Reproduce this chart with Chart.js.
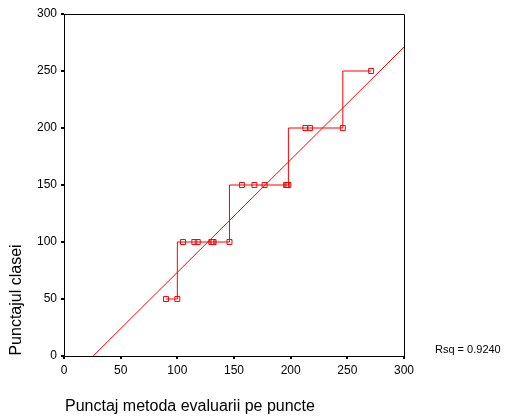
<!DOCTYPE html>
<html>
<head>
<meta charset="utf-8">
<style>
  html, body { margin: 0; padding: 0; background: #fff; }
  #chart { display: block; }
</style>
<script src="https://cdn.jsdelivr.net/npm/chart.js@4/dist/chart.umd.min.js"></script>
</head>
<body>
<canvas id="chart" width="508" height="417"></canvas>
<script>
// observed points (sorted by x)
var evalScore = [90, 100, 105, 115, 118, 130, 131, 132, 146, 157, 168, 177, 196, 197, 198, 213, 217, 246, 271];
var classScore = [50, 50, 100, 100, 100, 100, 100, 100, 100, 150, 150, 150, 150, 150, 150, 200, 200, 200, 250];

// fitted line
var fitX = [25.7, 300];
var fitY = [0, 271];

var xTicks = [0, 50, 100, 150, 200, 250, 300];
var yTicks = [0, 50, 100, 150, 200, 250, 300];

var xTitle = 'Punctaj metoda evaluarii pe puncte';
var yTitle = 'Punctajul clasei';
var rsqLabel = 'Rsq = 0.9240';

var font = 'Arial, "Liberation Sans", sans-serif';

var points = evalScore.map(function(x, i) {
  return { x: x, y: classScore[i] };
});
var fitLine = fitX.map(function(x, i) {
  return { x: x, y: fitY[i] };
});

var extras = {
  id: 'extras',
  afterDraw: function(chart) {
    var ctx = chart.ctx;
    var a = chart.chartArea;
    ctx.save();
    // frame
    ctx.strokeStyle = '#000';
    ctx.lineWidth = 1;
    ctx.beginPath();
    ctx.moveTo(a.left, a.top + 0.5);
    ctx.lineTo(a.right + 0.5, a.top + 0.5);
    ctx.lineTo(a.right + 0.5, a.bottom);
    ctx.stroke();

    ctx.fillStyle = '#000';
    ctx.font = '16px ' + font;
    ctx.textBaseline = 'middle';
    ctx.textAlign = 'left';
    ctx.fillText(xTitle, 65, 407);

    ctx.font = '11px ' + font;
    ctx.fillText(rsqLabel, 435, 350);

    ctx.translate(17, 300);
    ctx.rotate(-Math.PI / 2);
    ctx.textAlign = 'center';
    ctx.font = '16px ' + font;
    ctx.fillText(yTitle, 0, 0);
    ctx.restore();
  }
};

var chart = new Chart('chart', {
  type: 'scatter',
  data: {
    datasets: [
      {
        data: points,
        showLine: true,
        stepped: 'after',
        borderColor: '#ff0000',
        borderWidth: 1,
        pointStyle: 'rect',
        pointRadius: 3.5,
        pointBorderWidth: 1,
        pointBorderColor: '#ff0000',
        pointBackgroundColor: 'rgba(255,255,255,0)',
        fill: false
      },
      {
        data: fitLine,
        showLine: true,
        borderColor: '#ff0000',
        borderWidth: 1,
        pointRadius: 0,
        fill: false
      }
    ]
  },
  options: {
    responsive: false,
    animation: false,
    events: [],
    layout: { padding: { left: 0, top: 14, right: 104, bottom: 0 } },
    plugins: {
      legend: { display: false },
      tooltip: { enabled: false }
    },
    scales: {
      x: {
        type: 'linear',
        min: 0,
        max: 300,
        afterBuildTicks: function(s) {
          s.ticks = xTicks.map(function(v) { return { value: v }; });
        },
        afterFit: function(s) { s.height = 61; },
        border: { display: true, color: '#000', width: 1 },
        grid: { drawOnChartArea: false, drawTicks: true, tickLength: 3, color: '#000', lineWidth: 2 },
        ticks: { color: '#000', font: { family: font, size: 12 }, padding: 4, maxRotation: 0 }
      },
      y: {
        type: 'linear',
        min: 0,
        max: 300,
        afterBuildTicks: function(s) {
          s.ticks = yTicks.map(function(v) { return { value: v }; });
        },
        afterFit: function(s) { s.width = 64; },
        border: { display: true, color: '#000', width: 1 },
        grid: { drawOnChartArea: false, drawTicks: true, tickLength: 3, color: '#000', lineWidth: 2 },
        ticks: { color: '#000', font: { family: font, size: 12 }, padding: 4 }
      }
    }
  },
  plugins: [extras]
});
</script>
</body>
</html>
